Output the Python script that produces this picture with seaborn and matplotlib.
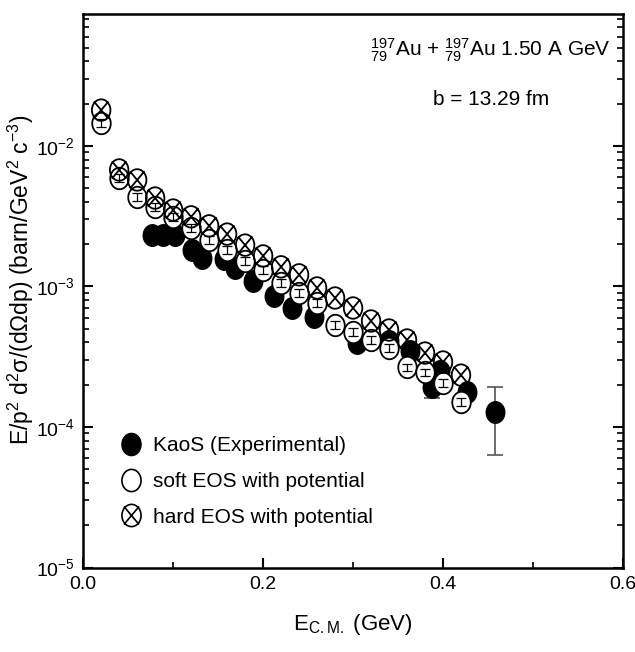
import numpy as np
import pandas as pd
import matplotlib
matplotlib.use("Agg")
import matplotlib.pyplot as plt
import seaborn as sns
from matplotlib.path import Path
from matplotlib.lines import Line2D
from matplotlib import font_manager
from matplotlib.ticker import FixedLocator, LogLocator, NullFormatter

# ---------------- data ----------------
x_exp = [0.077, 0.089, 0.102, 0.121, 0.132, 0.156, 0.169, 0.189, 0.212, 0.232,
         0.257, 0.304, 0.340, 0.363, 0.388, 0.397, 0.427, 0.458]
y_exp = [2.33e-3, 2.33e-3, 2.33e-3, 1.82e-3, 1.60e-3, 1.57e-3, 1.35e-3, 1.09e-3,
         8.55e-4, 7.03e-4, 6.07e-4, 3.96e-4, 4.09e-4, 3.47e-4, 1.93e-4, 2.51e-4,
         1.77e-4, 1.28e-4]
y_exp_lo = [2.33e-3, 2.33e-3, 2.33e-3, 1.82e-3, 1.60e-3, 1.57e-3, 1.35e-3, 1.09e-3,
            8.55e-4, 7.03e-4, 6.07e-4, 3.96e-4, 4.09e-4, 3.47e-4, 1.60e-4, 2.51e-4,
            1.77e-4, 6.3e-5]
y_exp_hi = [2.33e-3, 2.33e-3, 2.33e-3, 1.82e-3, 1.60e-3, 1.57e-3, 1.35e-3, 1.09e-3,
            8.55e-4, 7.03e-4, 6.07e-4, 3.96e-4, 4.09e-4, 3.47e-4, 1.93e-4, 2.51e-4,
            1.77e-4, 1.93e-4]

x_model = [0.02, 0.04, 0.06, 0.08, 0.10, 0.12, 0.14, 0.16, 0.18, 0.20, 0.22,
           0.24, 0.26, 0.28, 0.30, 0.32, 0.34, 0.36, 0.38, 0.40, 0.42]
y_soft = [1.46e-2, 5.92e-3, 4.34e-3, 3.68e-3, 3.13e-3, 2.61e-3, 2.14e-3, 1.82e-3,
          1.52e-3, 1.31e-3, 1.06e-3, 8.99e-4, 7.63e-4, 5.32e-4, 4.74e-4, 4.16e-4,
          3.65e-4, 2.67e-4, 2.46e-4, 2.06e-4, 1.51e-4]
y_hard = [1.80e-2, 6.75e-3, 5.73e-3, 4.26e-3, 3.50e-3, 3.13e-3, 2.70e-3, 2.36e-3,
          1.97e-3, 1.65e-3, 1.38e-3, 1.21e-3, 9.76e-4, 8.28e-4, 7.03e-4, 5.68e-4,
          4.90e-4, 4.16e-4, 3.36e-4, 2.90e-4, 2.34e-4]

labels = ["KaoS (Experimental)", "soft EOS with potential", "hard EOS with potential"]
x_ticks = [0.0, 0.2, 0.4, 0.6]

# ---------------- style ----------------
sns.set_style("ticks")
avail = {f.name for f in font_manager.fontManager.ttflist}
fam = "Liberation Sans Narrow" if "Liberation Sans Narrow" in avail else "Liberation Sans"
plt.rcParams["font.family"] = [fam, "DejaVu Sans"]
plt.rcParams["mathtext.fontset"] = "custom"
plt.rcParams["mathtext.rm"] = fam
plt.rcParams["mathtext.it"] = fam
plt.rcParams["mathtext.sf"] = fam
for k in ["text.color", "axes.labelcolor", "xtick.color", "ytick.color", "axes.edgecolor"]:
    plt.rcParams[k] = "black"

# ellipse marker (slightly taller than wide)
t = np.linspace(0, 2 * np.pi, 60)
ell_v = np.column_stack([0.86 * np.cos(t), np.sin(t)])
ell_codes = [Path.MOVETO] + [Path.LINETO] * (len(t) - 2) + [Path.CLOSEPOLY]
ell = Path(ell_v, ell_codes)
d = 0.86 * 0.78
d2 = 0.80
cross_v = np.vstack([ell_v, [[-d, -d2], [d, d2], [-d, d2], [d, -d2]]])
cross_codes = ell_codes + [Path.MOVETO, Path.LINETO, Path.MOVETO, Path.LINETO]
crossed = Path(cross_v, cross_codes)

fig = plt.figure(figsize=(6.35, 6.52), dpi=100)
ax = fig.add_axes([0.131, 0.1296, 0.850, 0.849])

df_exp = pd.DataFrame({"x": x_exp, "y": y_exp})
df_soft = pd.DataFrame({"x": x_model, "y": y_soft})
df_hard = pd.DataFrame({"x": x_model, "y": y_hard})

# experimental error bars
yerr = [np.array(y_exp) - np.array(y_exp_lo), np.array(y_exp_hi) - np.array(y_exp)]
ax.errorbar(x_exp, y_exp, yerr=yerr, fmt="none", ecolor="#555555", elinewidth=1.2,
            capsize=6, capthick=1.2, zorder=1)
sns.scatterplot(data=df_exp, x="x", y="y", marker=ell, s=240, color="black",
                edgecolor="black", linewidth=1.0, ax=ax, zorder=2, legend=False)
sns.scatterplot(data=df_soft, x="x", y="y", marker=ell, s=240, facecolor="white",
                edgecolor="black", linewidth=1.3, ax=ax, zorder=3, legend=False)
# small internal error bars of the soft EOS points
ax.errorbar(x_model, y_soft, yerr=[np.array(y_soft) * 0.06, np.array(y_soft) * 0.06],
            fmt="none", ecolor="black", elinewidth=0.9, capsize=3.5, capthick=0.9, zorder=4)
sns.scatterplot(data=df_hard, x="x", y="y", marker=crossed, s=240, facecolor="none",
                edgecolor="black", linewidth=1.3, ax=ax, zorder=5, legend=False)

ax.set_yscale("log")
ax.set_xlim(0.0, 0.6)
ax.set_ylim(1e-5, 8.7e-2)
ax.xaxis.set_major_locator(FixedLocator(x_ticks))
ax.xaxis.set_minor_locator(FixedLocator([0.1, 0.3, 0.5]))
ax.set_xticklabels([f"{v:.1f}" for v in x_ticks])
ax.yaxis.set_major_locator(LogLocator(base=10, numticks=10))
ax.yaxis.set_minor_locator(LogLocator(base=10, subs=np.arange(2, 10), numticks=20))
ax.yaxis.set_minor_formatter(NullFormatter())

ax.tick_params(axis="both", which="major", direction="in", length=7, width=1.5,
               labelsize=14, right=True, top=False, pad=6)
ax.tick_params(axis="both", which="minor", direction="in", length=4, width=1.2,
               right=True, top=False)
for sp in ax.spines.values():
    sp.set_visible(True)
    sp.set_linewidth(1.8)
    sp.set_color("black")

ax.set_xlabel(r"E$_{\mathrm{C.M.}}$ (GeV)", fontsize=16, labelpad=14)
ax.set_ylabel(r"E/p$^{2}$ d$^{2}\sigma$/(d$\Omega$dp) (barn/GeV$^{2}$ c$^{-3}$)",
              fontsize=16.5)
ax.yaxis.set_label_coords(-0.088, 0.52)

ax.text(0.755, 0.935, r"${}^{197}_{79}$Au + ${}^{197}_{79}$Au 1.50 A GeV",
        transform=ax.transAxes, ha="center", va="center", fontsize=15)
ax.text(0.755, 0.845, "b = 13.29 fm", transform=ax.transAxes, ha="center",
        va="center", fontsize=15)

handles = [
    Line2D([], [], linestyle="none", marker=ell, markersize=16, markerfacecolor="black",
           markeredgecolor="black"),
    Line2D([], [], linestyle="none", marker=ell, markersize=16, markerfacecolor="white",
           markeredgecolor="black", markeredgewidth=1.2),
    Line2D([], [], linestyle="none", marker=crossed, markersize=16, markerfacecolor="none",
           markeredgecolor="black", markeredgewidth=1.2),
]
ax.legend(handles, labels, loc="lower left", bbox_to_anchor=(0.035, 0.04),
          frameon=False, fontsize=15, handletextpad=0.55, labelspacing=0.8,
          handlelength=1.0)

fig.savefig("out.png", dpi=100)
